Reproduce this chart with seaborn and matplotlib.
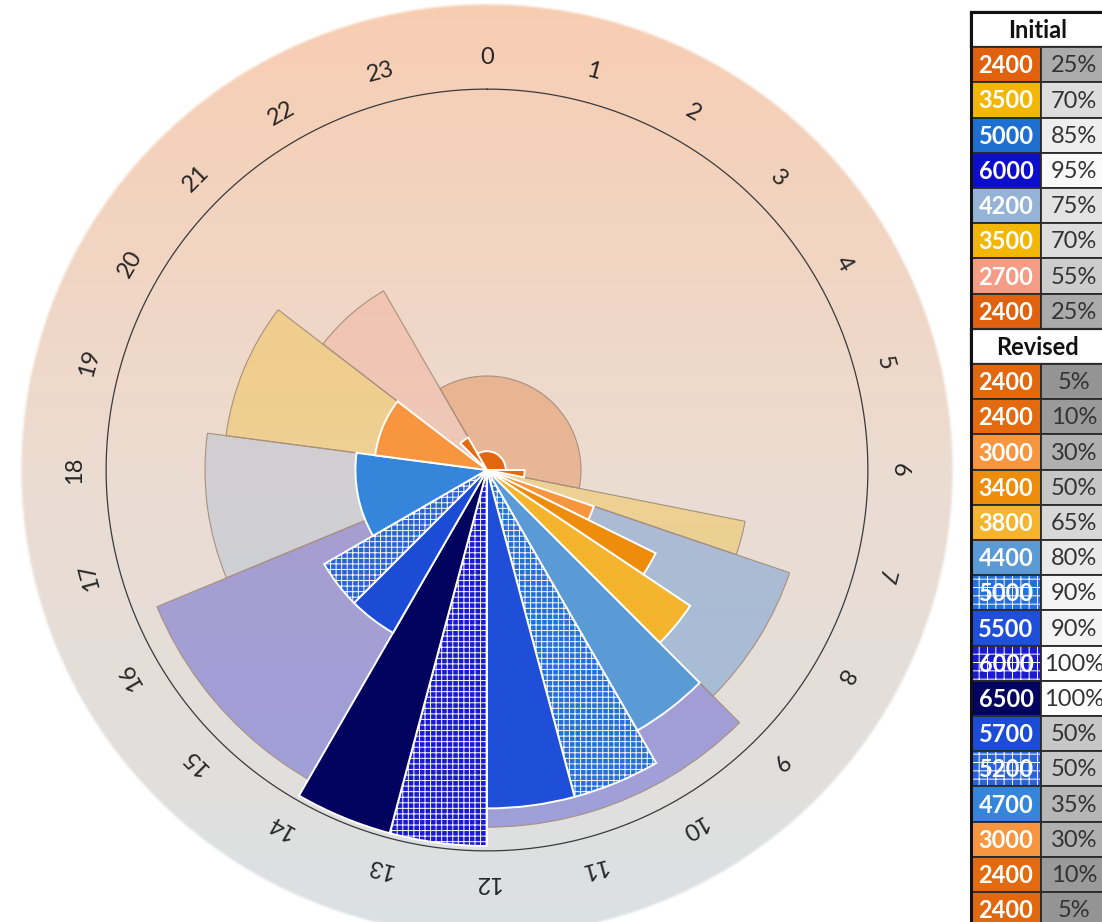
import numpy as np
import matplotlib
matplotlib.use("Agg")
import matplotlib.pyplot as plt
from matplotlib.patches import Rectangle
from matplotlib.colors import to_rgb
import seaborn as sns

# ---- lighting schedule: colour temperature (K) and brightness (%) per time block ----
initial_kelvin = [2400, 3500, 5000, 6000, 4200, 3500, 2700, 2400]
initial_pct = [25, 70, 85, 95, 75, 70, 55, 25]
initial_start = [0, 6.75, 7.25, 9, 16.5, 18.5, 20.5, 22]
initial_end = [6.75, 7.25, 9, 16.5, 18.5, 20.5, 22, 24]
initial_colors = ["#e0610e", "#f2b705", "#1f6fd1", "#0d0dcc",
                  "#95b3d7", "#f2b705", "#f59c85", "#e0610e"]

revised_kelvin = [2400, 2400, 3000, 3400, 3800, 4400, 5000, 5500,
                  6000, 6500, 5700, 5200, 4700, 3000, 2400, 2400]
revised_pct = [5, 10, 30, 50, 65, 80, 90, 90, 100, 100, 50, 50, 35, 30, 10, 5]
revised_start = [0, 6, 7.25, 7.75, 8.25, 9, 10, 11, 12, 13, 14, 15, 16, 18.5, 21, 22]
revised_end = [6, 6.75, 7.75, 8.25, 9, 10, 11, 12, 13, 14, 15, 16, 18.5, 20.5, 22, 24]
revised_colors = ["#e2680f", "#e36a0e", "#f7963f", "#ee8c0c", "#f4b42e", "#5b9bd5",
                  "#2470da", "#1f4fd8", "#1a1ad0", "#02025f", "#1c4bd6", "#2a63d8",
                  "#3586da", "#f7963f", "#e36a0e", "#e2680f"]
revised_textured = [False, False, False, False, False, False, True, False,
                    True, False, False, True, False, False, False, False]

hour_labels = [str(h) for h in range(24)]

# ---- style ----
sns.set_theme(style="white")
plt.rcParams["font.family"] = ["Lato", "DejaVu Sans"]
plt.rcParams["hatch.color"] = "white"
plt.rcParams["hatch.linewidth"] = 0.7

W, H = 1102, 922
fig = plt.figure(figsize=(W / 100, H / 100), dpi=100)
fig.patch.set_facecolor("white")

# dial geometry in pixels
cx, cy = 487, 470
disc_r = 467
full_scale = 376.0            # pixels for 100 % brightness
r_max = disc_r / full_scale * 100
rect = [(cx - disc_r) / W, (H - cy - disc_r) / H, 2 * disc_r / W, 2 * disc_r / H]

# ---- shaded backdrop disc ----
bg_ax = fig.add_axes(rect, zorder=0)
n = 600
yy, xx = np.mgrid[0:n, 0:n]
u = (xx + 0.5) / n * 2 - 1
v = (yy + 0.5) / n * 2 - 1
rr = np.hypot(u, v)
top = np.array(to_rgb("#f8cdb2"))
mid = np.array(to_rgb("#ecdcd1"))
bot = np.array(to_rgb("#dbe1e4"))
t3 = ((v + 1) / 2)[..., None]
grad = np.where(t3 < 0.5, top + (mid - top) * (t3 / 0.5), mid + (bot - mid) * ((t3 - 0.5) / 0.5))
alpha = np.clip((1 - rr) * disc_r / 3.0, 0, 1)
img = np.dstack([grad, alpha])
bg_ax.imshow(img, extent=(-1, 1, -1, 1), origin="upper", interpolation="bilinear")
bg_ax.set_xlim(-1, 1)
bg_ax.set_ylim(-1, 1)
bg_ax.set_axis_off()

# ---- polar dial ----
ax = fig.add_axes(rect, projection="polar", zorder=1)
ax.patch.set_alpha(0)
ax.set_theta_zero_location("N")
ax.set_theta_direction(-1)
ax.set_ylim(0, r_max)
ax.set_axis_off()


def to_rad(h):
    return np.asarray(h, dtype=float) / 24 * 2 * np.pi


def wrap_blocks(starts, ends, pcts, colors, extra):
    """Join the block ending at 24 h with the identical one starting at 0 h."""
    blocks = [list(b) for b in zip(starts, ends, pcts, colors, extra)]
    first, last = blocks[0], blocks[-1]
    if first[0] == 0 and last[1] == 24 and first[2:] == last[2:]:
        last[1] = 24 + first[1]
        blocks = blocks[1:]
    return blocks


# initial schedule: translucent wedges
for s, e, p, c, _ in wrap_blocks(initial_start, initial_end, initial_pct,
                                 initial_colors, [False] * len(initial_pct)):
    ax.bar(to_rad(s), p, width=to_rad(e - s), bottom=0, align="edge",
           facecolor=(*to_rgb(c), 0.30), edgecolor="#a8907e", linewidth=0.8, zorder=2)

# revised schedule: solid wedges with white borders
for s, e, p, c, tex in wrap_blocks(revised_start, revised_end, revised_pct,
                                   revised_colors, revised_textured):
    ax.bar(to_rad(s), p, width=to_rad(e - s), bottom=0, align="edge", facecolor=c,
           edgecolor="white", linewidth=1.4, hatch="+++" if tex else None, zorder=3)

# outer reference ring
ring = np.linspace(0, 2 * np.pi, 500)
ax.plot(ring, np.full_like(ring, 101.3), color="#3a3a3a", linewidth=0.9, zorder=4)

# hour labels, rotated with the dial
for h, lab in enumerate(hour_labels):
    ax.text(to_rad(h), 109.6, lab, rotation=-h * 15, rotation_mode="anchor",
            ha="center", va="center", fontsize=17, color="#262626", zorder=5)

# ---- legend table ----
tab = fig.add_axes([0, 0, 1, 1], zorder=3)
tab.set_xlim(0, W)
tab.set_ylim(H, 0)
tab.set_axis_off()
tab.patch.set_alpha(0)

x0, x1, x2 = 971, 1041, 1112
y0, pitch = 12, 35.2
rows = [("head", "Initial")]
rows += [("data", (k, p, c, False)) for k, p, c in zip(initial_kelvin, initial_pct, initial_colors)]
rows += [("head", "Revised")]
rows += [("data", (k, p, c, tx)) for k, p, c, tx in
         zip(revised_kelvin, revised_pct, revised_colors, revised_textured)]

for i, (kind, content) in enumerate(rows):
    y = y0 + i * pitch
    yc = y + pitch / 2
    if kind == "head":
        tab.add_patch(Rectangle((x0, y), x2 - x0, pitch, facecolor="white",
                                edgecolor="#2a2a2a", linewidth=1.6))
        tab.text((x0 + x2 - 8) / 2, yc + 1, content, ha="center", va="center",
                 fontsize=17, fontweight="bold", color="#111111")
    else:
        k, p, c, tx = content
        tab.add_patch(Rectangle((x0, y), x1 - x0, pitch, facecolor=c,
                                edgecolor="white", linewidth=0,
                                hatch="++" if tx else None))
        tab.add_patch(Rectangle((x0, y), x1 - x0, pitch, facecolor="none",
                                edgecolor="#2a2a2a", linewidth=1.3))
        g = 0.56 + 0.44 * p / 100
        tab.add_patch(Rectangle((x1, y), x2 - x1, pitch, facecolor=(g, g, g),
                                edgecolor="#2a2a2a", linewidth=1.3))
        tab.text((x0 + x1) / 2, yc + 1, str(k), ha="center", va="center",
                 fontsize=17, fontweight="bold", color="white")
        tab.text(1074, yc + 1, f"{p}%", ha="center", va="center",
                 fontsize=17, color="#333333")

tab.plot([x0, x0], [y0, y0 + len(rows) * pitch], color="#111111", linewidth=2.2)
tab.plot([x0, x2], [y0, y0], color="#111111", linewidth=2.2)

fig.savefig("out.png", dpi=100, facecolor="white")
